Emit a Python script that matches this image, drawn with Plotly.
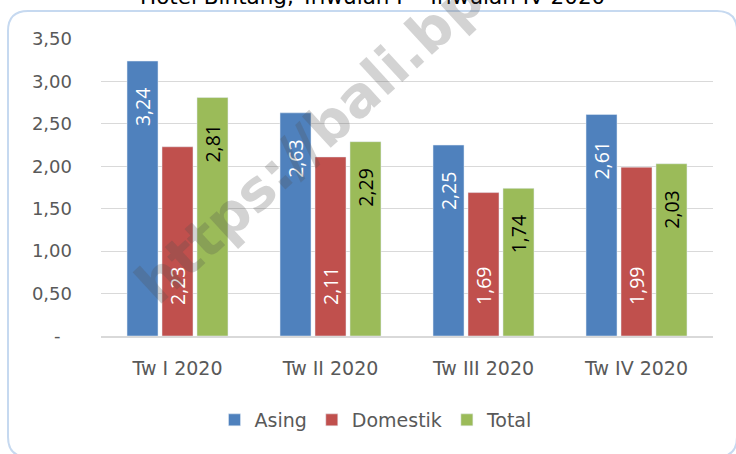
import plotly.graph_objects as go

categories = ["Tw I 2020", "Tw II 2020", "Tw III 2020", "Tw IV 2020"]
asing = [3.24, 2.63, 2.25, 2.61]
domestik = [2.23, 2.11, 1.69, 1.99]
total = [2.81, 2.29, 1.74, 2.03]
y_tickvals = [0, 0.5, 1.0, 1.5, 2.0, 2.5, 3.0, 3.5]
y_ticktext = ["-\u00a0\u00a0", "0,50", "1,00", "1,50", "2,00", "2,50", "3,00", "3,50"]

W, H = 736, 454
ML, MR, MT, MB = 101, 23, 39, 118
PW, PH = W - ML - MR, H - MT - MB
BARGAP, GROUPGAP = 0.314, 0.114
SLOT = PW / len(categories) * (1 - BARGAP) / 3


def px(x):
    return (x - ML) / PW


def py(y):
    return (H - MB - y) / PH


def fmt(v):
    return f"{v:.2f}".replace(".", ",")


lab_font = dict(family="Open Sans", size=19.5)

fig = go.Figure()
fig.add_trace(go.Bar(name="Asing", x=categories, y=asing,
                     marker_color="#4f81bd", hoverinfo="skip"))
fig.add_trace(go.Bar(name="Domestik", x=categories, y=domestik,
                     marker_color="#c0504d", hoverinfo="skip"))
fig.add_trace(go.Bar(name="Total", x=categories, y=total,
                     marker_color="#9bbb59", hoverinfo="skip"))

# value labels near the top inside the Asing and Total bars
for vals, shift, col in ((asing, -SLOT, "white"), (total, SLOT, "black")):
    for c, v in zip(categories, vals):
        fig.add_annotation(x=c, y=v, xref="x", yref="y", text=fmt(v),
                           textangle=-90, showarrow=False, xanchor="center",
                           yanchor="top", xshift=shift, yshift=-24,
                           font=dict(color=col, **lab_font))
# value labels at the base of the Domestik bars
for c, v in zip(categories, domestik):
    fig.add_annotation(x=c, y=0, xref="x", yref="y", text=fmt(v),
                       textangle=-90, showarrow=False, xanchor="center",
                       yanchor="bottom", yshift=29,
                       font=dict(color="white", **lab_font))

# rounded border of the chart area (pixel -> paper)
L, T, R, B, r = 8, 11, 737, 457, 20
path = (
    f"M {px(L)},{py(T + r)} Q {px(L)},{py(T)} {px(L + r)},{py(T)} "
    f"L {px(R - r)},{py(T)} Q {px(R)},{py(T)} {px(R)},{py(T + r)} "
    f"L {px(R)},{py(B - r)} Q {px(R)},{py(B)} {px(R - r)},{py(B)} "
    f"L {px(L + r)},{py(B)} Q {px(L)},{py(B)} {px(L)},{py(B - r)} Z"
)
fig.add_shape(type="path", path=path, xref="paper", yref="paper",
              line=dict(color="#c6d9f0", width=2), layer="below")

fig.add_annotation(
    text="Hotel Bintang, Triwulan I – Triwulan IV 2020",
    xref="paper", yref="paper", x=px(372), y=py(-3),
    xanchor="center", yanchor="middle", showarrow=False,
    font=dict(family="DejaVu Sans", size=21.5, color="black"))

fig.add_annotation(
    text="<b>https://bali.bps.go.id</b>",
    xref="paper", yref="paper", x=px(388), y=py(68),
    xanchor="center", yanchor="middle", showarrow=False, textangle=-42.6,
    font=dict(family="DejaVu Sans", size=56, color="rgba(80,80,80,0.25)"))

fig.update_layout(
    width=W, height=H,
    margin=dict(l=ML, r=MR, t=MT, b=MB, pad=0),
    paper_bgcolor="white", plot_bgcolor="white",
    barmode="group", bargap=BARGAP, bargroupgap=GROUPGAP,
    font=dict(family="DejaVu Sans", color="#595959"),
    showlegend=True,
    legend=dict(orientation="h", x=px(376), xanchor="center",
                y=py(420), yanchor="middle",
                font=dict(family="DejaVu Sans", size=19, color="#595959"),
                itemclick=False),
    xaxis=dict(showgrid=False, showline=True, linecolor="#d9d9d9", linewidth=1.5,
               ticks="", tickfont=dict(size=19, color="#595959"),
               ticklabelstandoff=14, fixedrange=True),
    yaxis=dict(range=[0, 3.5], tickvals=y_tickvals, ticktext=y_ticktext,
               showgrid=True, gridcolor="#d9d9d9", gridwidth=1, zeroline=False,
               showline=False, ticks="",
               tickfont=dict(size=18, color="#595959"),
               ticklabelstandoff=28, fixedrange=True),
)

fig.write_html("out.html", config={"displayModeBar": False},
               post_script="document.body.style.margin='0';")
